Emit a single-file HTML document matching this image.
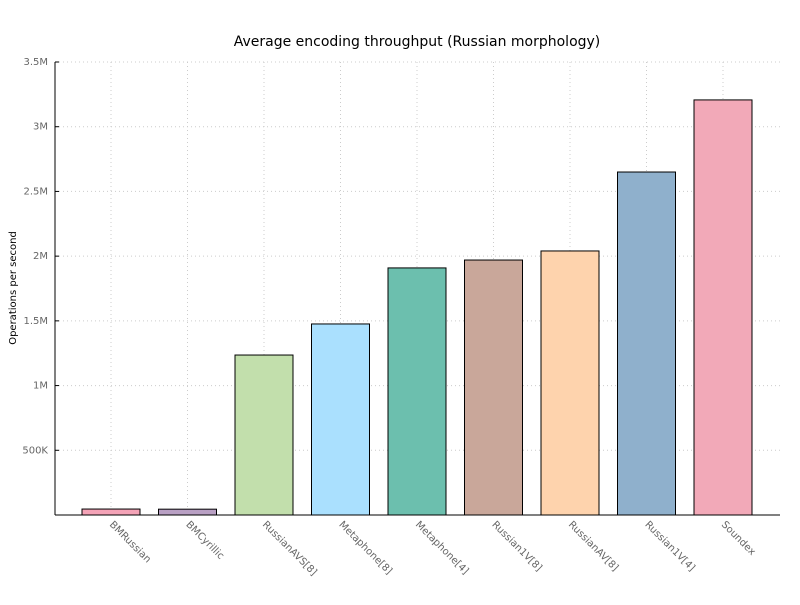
<!DOCTYPE html>
<html><head><meta charset="utf-8"><style>
body{margin:0;background:#fff;}
svg{font-family:"DejaVu Sans","Liberation Sans",sans-serif;}
</style></head><body>
<svg id="chart" width="800" height="600">
<rect width="800" height="600" fill="#fff"/>
<text x="417" y="46" text-anchor="middle" font-size="14" fill="#000">Average encoding throughput (Russian morphology)</text>
<text transform="translate(16,288) rotate(-90)" text-anchor="middle" font-size="10" fill="#000">Operations per second</text>
<g id="grid"></g><g id="bars"></g><g id="axes"></g>
</svg>
<script>
const categories=["BMRussian","BMCyrillic","RussianAVS[8]","Metaphone[8]","Metaphone[4]","Russian1V[8]","RussianAV[8]","Russian1V[4]","Soundex"];
const values=[46000,45000,1236000,1476000,1909000,1970000,2040000,2650000,3207000];
const colors=["#f4a3b7","#b9a0c4","#c2dfac","#aae0fe","#6cbfae","#c9a79a","#fed3ad","#8fb0cc","#f2a9b8"];
const yTicks=[500000,1000000,1500000,2000000,2500000,3000000,3500000];
const yTickLabels=["500K","1M","1.5M","2M","2.5M","3M","3.5M"];
const NS="http://www.w3.org/2000/svg";
const x0=55,x1=780,yb=515,yt=62,yMax=3500000;
const y=v=>yb-(v/yMax)*(yb-yt);
const xc=i=>111+i*76.5;
const bw=58;
function mk(t,a,p){const e=document.createElementNS(NS,t);for(const k in a)e.setAttribute(k,a[k]);p.appendChild(e);return e;}
const grid=document.getElementById('grid'),bars=document.getElementById('bars'),axes=document.getElementById('axes');
yTicks.forEach((v,i)=>{
  const g=mk('line',{x1:x0,x2:x1,y1:y(v),y2:y(v),stroke:'#ccc','stroke-dasharray':'1,3'},grid);
  
  
  mk('line',{x1:x0,x2:x0+4,y1:y(v),y2:y(v),stroke:'#000'},axes);
  const t=mk('text',{x:x0-7,y:y(v)+3,'text-anchor':'end','font-size':'10',fill:'#666'},axes);
  t.textContent=yTickLabels[i];
  
  
});
categories.forEach((c,i)=>{
  const g=mk('line',{x1:xc(i),x2:xc(i),y1:yt,y2:yb,stroke:'#ccc','stroke-dasharray':'1,3'},grid);
  
  
  const r=mk('rect',{x:xc(i)-bw/2,y:y(values[i]),width:bw,height:yb-y(values[i]),fill:colors[i],stroke:'#000','stroke-width':1},bars);
  
  
  const t=mk('text',{x:0,y:0,'font-size':'10',fill:'#666',transform:`translate(${xc(i)-2},${yb+10}) rotate(45)`},axes);
  t.textContent=c;
  
  
});
const ax=mk('line',{x1:x0,x2:x0,y1:yt,y2:yb,stroke:'#000'},axes);


const bx=mk('line',{x1:x0,x2:x1,y1:yb,y2:yb,stroke:'#000'},axes);


</script>
</body></html>
